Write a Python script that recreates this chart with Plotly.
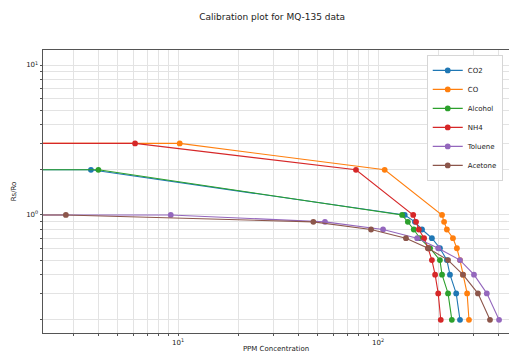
import plotly.graph_objects as go

# Data (PPM concentration vs Rs/Ro)
series_names = ["CO2", "CO", "Alcohol", "NH4", "Toluene", "Acetone"]
series_colors = ["#1f77b4", "#ff7f0e", "#2ca02c", "#d62728", "#9467bd", "#8c564b"]

co2_ppm = [1.0, 3.67, 136, 153, 166, 186, 204, 221, 229, 246, 257]
co2_ratio = [2.0, 2.0, 1.0, 0.9, 0.8, 0.7, 0.6, 0.5, 0.4, 0.3, 0.2]

co_ppm = [1.0, 10.2, 108, 209, 214, 221, 237, 248, 257, 266, 279, 285]
co_ratio = [3.0, 3.0, 2.0, 1.0, 0.9, 0.8, 0.7, 0.6, 0.5, 0.4, 0.3, 0.2]

alcohol_ppm = [1.0, 4.0, 132, 141, 151, 162, 182, 204, 209, 224, 234]
alcohol_ratio = [2.0, 2.0, 1.0, 0.9, 0.8, 0.7, 0.6, 0.5, 0.4, 0.3, 0.2]

nh4_ppm = [1.0, 6.1, 77.6, 150, 155, 160, 170, 178, 186, 193, 200, 206]
nh4_ratio = [3.0, 3.0, 2.0, 1.0, 0.9, 0.8, 0.7, 0.6, 0.5, 0.4, 0.3, 0.2]

toluene_ppm = [1.0, 9.2, 54.3, 106, 157, 200, 257, 302, 350, 403]
toluene_ratio = [1.0, 1.0, 0.9, 0.8, 0.7, 0.6, 0.5, 0.4, 0.3, 0.2]

acetone_ppm = [1.0, 2.75, 47.5, 92.3, 138, 178, 224, 266, 316, 363]
acetone_ratio = [1.0, 1.0, 0.9, 0.8, 0.7, 0.6, 0.5, 0.4, 0.3, 0.2]

# tick labels (decades labelled, minor positions unlabelled)
x_decades = [1, 10, 100]
x_decade_labels = ["10<sup>0</sup>", "10<sup>1</sup>", "10<sup>2</sup>"]
y_decades = [0.1, 1, 10]
y_decade_labels = ["10<sup>-1</sup>", "10<sup>0</sup>", "10<sup>1</sup>"]
minor_digits = [1, 2, 3, 4, 5, 6, 7, 8, 9]

def log_ticks(decades, labels):
    vals, texts = [], []
    for d, lab in zip(decades, labels):
        for m in minor_digits:
            vals.append(d * m)
            texts.append(lab if m == 1 else "")
    return vals, texts

x_tickvals, x_ticktext = log_ticks(x_decades, x_decade_labels)
y_tickvals, y_ticktext = log_ticks(y_decades, y_decade_labels)

all_x = [co2_ppm, co_ppm, alcohol_ppm, nh4_ppm, toluene_ppm, acetone_ppm]
all_y = [co2_ratio, co_ratio, alcohol_ratio, nh4_ratio, toluene_ratio, acetone_ratio]

FONT = "DejaVu Sans"
fig = go.Figure()
for name, color, xs, ys in zip(series_names, series_colors, all_x, all_y):
    fig.add_trace(go.Scatter(
        x=xs, y=ys, name=name, mode="lines+markers",
        line=dict(color=color, width=1.1),
        marker=dict(color=color, size=5.8),
    ))

axis_common = dict(
    type="log", showline=True, mirror=True, linecolor="#555", linewidth=0.8,
    showgrid=True, gridcolor="#e3e3e3", gridwidth=0.7,
    ticks="outside", ticklen=2.5, tickcolor="#555", tickwidth=0.7,
    tickfont=dict(family=FONT, size=7, color="#222"),
    tickmode="array", zeroline=False, automargin=False,
)

# the page body adds an 8px offset; the figure is sized to fill the rest
W, H = 509, 352
fig.update_layout(
    template="simple_white",
    width=W, height=H,
    margin=dict(l=35, r=8, t=42, b=27, autoexpand=False),
    paper_bgcolor="white", plot_bgcolor="white",
    title=dict(text="Calibration plot for MQ-135 data", x=0.519, xanchor="center",
               y=1 - 9 / H, yanchor="middle", yref="container",
               font=dict(family=FONT, size=9, color="#222")),
    xaxis=dict(axis_common, range=[0.325, 2.655],
               tickvals=x_tickvals, ticktext=x_ticktext,
               title=dict(text="PPM Concentration", standoff=0,
                          font=dict(family=FONT, size=7, color="#222"))),
    yaxis=dict(axis_common, range=[-0.787, 1.1],
               tickvals=y_tickvals, ticktext=y_ticktext,
               title=dict(text="Rs/Ro", standoff=8,
                          font=dict(family=FONT, size=7, color="#222"))),
    legend=dict(x=0.987, y=0.982, xanchor="right", yanchor="top",
                bgcolor="white", bordercolor="#cccccc", borderwidth=0.8,
                font=dict(family=FONT, size=7, color="#222"),
                itemwidth=30, tracegroupgap=0),
    showlegend=True,
)

fig.write_html("out.html")
